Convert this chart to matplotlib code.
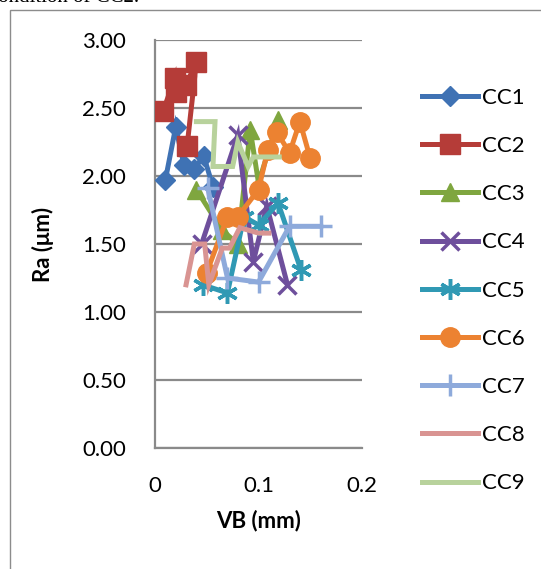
import matplotlib
matplotlib.use("Agg")
import matplotlib.pyplot as plt
from matplotlib.patches import Rectangle

plt.rcParams['font.family'] = ['Lato', 'DejaVu Sans']

# Ra (um) versus flank wear VB (mm) for the nine cutting conditions
names = ["CC1", "CC2", "CC3", "CC4", "CC5", "CC6", "CC7", "CC8", "CC9"]

cc1_vb = [0.01, 0.02, 0.028, 0.038, 0.047, 0.056]
cc1_ra = [1.97, 2.36, 2.08, 2.05, 2.15, 1.92]

cc2_vb = [0.008, 0.019, 0.02, 0.03, 0.04, 0.031]
cc2_ra = [2.48, 2.72, 2.62, 2.67, 2.84, 2.22]

cc3_vb = [0.04, 0.065, 0.08, 0.092, 0.1, 0.119]
cc3_ra = [1.90, 1.60, 1.50, 2.34, 1.95, 2.41]

cc4_vb = [0.045, 0.08, 0.095, 0.108, 0.128]
cc4_ra = [1.50, 2.30, 1.37, 1.78, 1.20]

cc5_vb = [0.046, 0.07, 0.086, 0.1, 0.119, 0.141]
cc5_ra = [1.20, 1.14, 1.70, 1.64, 1.80, 1.31]

cc6_vb = [0.05, 0.07, 0.08, 0.1, 0.109, 0.118, 0.13, 0.14, 0.15]
cc6_ra = [1.29, 1.70, 1.70, 1.90, 2.19, 2.32, 2.17, 2.40, 2.13]

cc7_vb = [0.051, 0.07, 0.1, 0.13, 0.16]
cc7_ra = [1.91, 1.25, 1.22, 1.63, 1.63]

cc8_vb = [0.03, 0.038, 0.048, 0.052, 0.065, 0.072, 0.082, 0.1, 0.11]
cc8_ra = [1.20, 1.50, 1.50, 1.20, 1.47, 1.47, 1.62, 1.58, 1.58]

cc9_vb = [0.04, 0.058, 0.056, 0.075, 0.08, 0.09, 0.095, 0.12]
cc9_ra = [2.40, 2.40, 2.07, 2.07, 2.25, 2.07, 2.14, 2.14]

vb_series = [cc1_vb, cc2_vb, cc3_vb, cc4_vb, cc5_vb, cc6_vb, cc7_vb, cc8_vb, cc9_vb]
ra_series = [cc1_ra, cc2_ra, cc3_ra, cc4_ra, cc5_ra, cc6_ra, cc7_ra, cc8_ra, cc9_ra]

colors = ["#3f72b4", "#b53c38", "#7fa63f", "#6e4f9c", "#3099b4",
          "#ec8231", "#8eaadb", "#d99492", "#b8d29c"]
markers = ["D", "s", "^", "x", (6, 2, 0), "o", "+", None, None]
msizes = [10, 14, 13, 13, 15, 14, 16, 0, 0]
thin_markers = [False, False, False, True, True, False, True, False, False]

fig = plt.figure(figsize=(5.41, 5.69), dpi=100)

# chart border and caption fragment above it
fig.patches.append(Rectangle((10 / 541, -0.1), 1.2, 1.1 - 10 / 569,
                             transform=fig.transFigure, fill=False,
                             edgecolor="#8c8c8c", lw=1.0, zorder=1))
fig.text(-0.02, 1.004, "condition of CC2.", fontsize=15, family="Liberation Serif",
         va="center", ha="left")

ax = fig.add_axes([155 / 541, 1 - 448 / 569, 207 / 541, 408 / 569])
ax.patch.set_alpha(0)

for i, name in enumerate(names):
    ax.plot(vb_series[i], ra_series[i], color=colors[i], lw=3.6,
            marker=markers[i], markersize=msizes[i],
            mew=2.5 if thin_markers[i] else 1,
            label=name, solid_joinstyle="miter", zorder=3)

ax.set_xlim(0, 0.2)
ax.set_ylim(0, 3.0)
ax.set_xticks([0, 0.1, 0.2])
ax.set_xticklabels(["0", "0.1", "0.2"])
ax.set_yticks([0, 0.5, 1.0, 1.5, 2.0, 2.5, 3.0])
ax.set_yticklabels(["0.00", "0.50", "1.00", "1.50", "2.00", "2.50", "3.00"])
ax.tick_params(length=0, labelsize=16, pad=21)
ax.tick_params(axis="x", pad=20)
ax.grid(axis="y", color="#8a8a8a", lw=1.6, zorder=1)
ax.set_axisbelow(True)
for s in ["top", "right"]:
    ax.spines[s].set_visible(False)
for s in ["left", "bottom"]:
    ax.spines[s].set_color("#8a8a8a")
    ax.spines[s].set_linewidth(1.6)

ax.set_xlabel("VB (mm)", fontsize=16, fontweight="bold", labelpad=10)
ax.set_ylabel("Ra (μm)", fontsize=16, fontweight="bold", labelpad=20)

leg = ax.legend(loc="upper left", bbox_to_anchor=(1.245, 0.905), frameon=False,
                fontsize=16, handlelength=2.55, handletextpad=0.15,
                labelspacing=1.27, borderaxespad=0)

fig.savefig("out.png", dpi=100)
